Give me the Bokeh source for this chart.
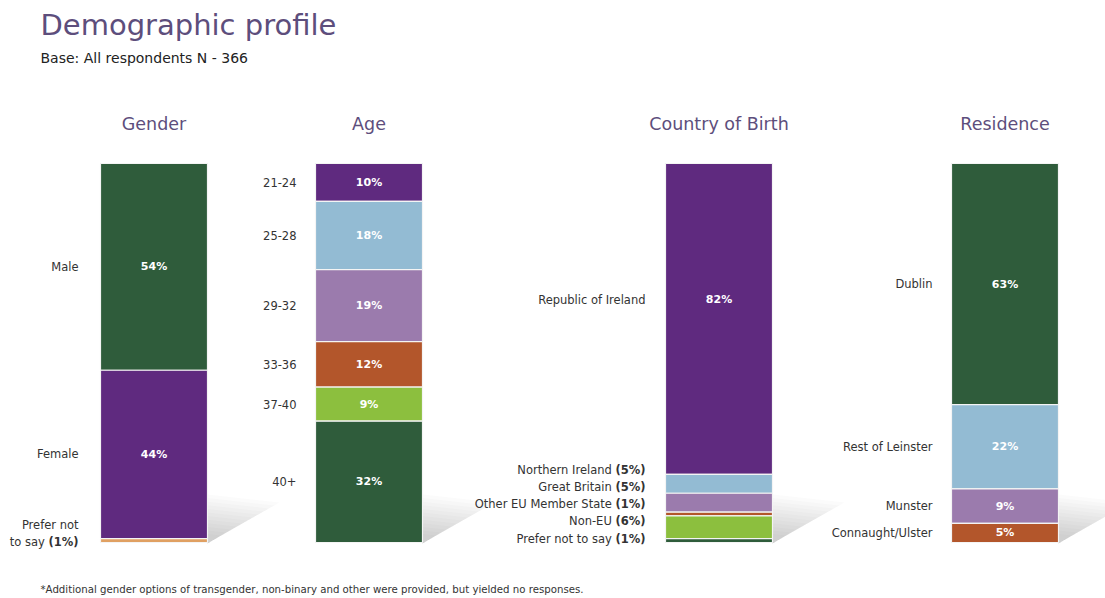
import numpy as np
from bokeh.plotting import figure
from bokeh.models import Range1d
from bokeh.core.properties import value
from bokeh.embed import file_html
from bokeh.resources import INLINE

# ---------------- data ----------------
gender_labels = ["Male", "Female", "Prefer not to say"]
gender_values = [54, 44, 1]
age_labels = ["21-24", "25-28", "29-32", "33-36", "37-40", "40+"]
age_values = [10, 18, 19, 12, 9, 32]
country_labels = ["Republic of Ireland", "Northern Ireland", "Great Britain",
                  "Other EU Member State", "Non-EU", "Prefer not to say"]
country_values = [82, 5, 5, 1, 6, 1]
residence_labels = ["Dublin", "Rest of Leinster", "Munster", "Connaught/Ulster"]
residence_values = [63, 22, 9, 5]
panel_titles = ["Gender", "Age", "Country of Birth", "Residence"]

# ---------------- styles ----------------
DKGREEN = "#2f5c3b"
PURPLE = "#5f2a7f"
LTBLUE = "#93bbd3"
LILAC = "#9b7bad"
RUST = "#b3562b"
LIME = "#8cbf3e"
PEACH = "#e0a062"
TITLE_C = "#5d4e7c"
TEXT_C = "#333333"
FONT = "DejaVu Sans"
LBL = 11.5          # category label size (px)
BOLD_GAP = (2.612 + 0.318) * LBL   # width of " (5%)" in bold

gender_colors = [DKGREEN, PURPLE, PEACH]
age_colors = [PURPLE, LTBLUE, LILAC, RUST, LIME, DKGREEN]
country_colors = [PURPLE, LTBLUE, LILAC, RUST, LIME, DKGREEN]
residence_colors = [DKGREEN, LTBLUE, LILAC, RUST]

W, H = 1105, 598
BAR_TOP, BAR_BOT = 163, 542          # page pixels
BAR_H = BAR_BOT - BAR_TOP
BAR_W = 107


def Y(py):
    """page pixel -> data units (percent of bar height)"""
    return (BAR_BOT - py) / BAR_H * 100.0


p = figure(width=W, height=H, output_backend="svg", toolbar_location=None,
           x_range=Range1d(0, W), y_range=Range1d(Y(H), Y(0)),
           min_border=0, outline_line_color=None)
p.axis.visible = False
p.grid.visible = False
p.background_fill_color = "white"
p.border_fill_color = "white"


def txt(x, y, s, size, color=TEXT_C, align="right", bold=False, baseline="middle"):
    p.text(x=[x], y=[y], text=[s], text_font=value(FONT),
           text_font_size=f"{size}px", text_color=color, text_align=align,
           text_baseline=baseline, text_font_style="bold" if bold else "normal")


def shadow(xr):
    # soft page-curl shadow to the right of a bar's foot
    n = 12
    for k in range(n):
        s = 1 - 0.075 * k
        xs = [xr, xr + 72 * s, xr]
        ys = [Y(BAR_BOT + 1), Y(BAR_BOT - 40 * s), Y(BAR_BOT - 48 * s)]
        p.patch(xs, ys, fill_color="#606060", fill_alpha=0.022, line_color=None)


def stack(xc, values, colors):
    v = np.array(values, dtype=float)
    v = v / v.sum() * 100.0
    top = 100.0 - np.concatenate([[0], np.cumsum(v)[:-1]])
    bot = top - v
    shadow(xc + BAR_W / 2)
    p.vbar(x=[xc] * len(v), width=BAR_W, top=top, bottom=bot,
           fill_color=colors, line_color="#f4f4f4", line_width=1.2)
    return (top + bot) / 2


centers = [153.5, 368.5, 718.5, 1004.5]
label_right = [78, 296, 645, 932]

# ---- titles ----
txt(40, Y(24), "Demographic profile", 29, color=TITLE_C, align="left")
txt(40, Y(57), "Base: All respondents N - 366", 14, color="#222222", align="left")
for xc, t in zip(centers, panel_titles):
    txt(xc, Y(123), t, 17.5, color=TITLE_C, align="center")
txt(40, Y(589), "*Additional gender options of transgender, non-binary and other "
    "were provided, but yielded no responses.", 10.2, color=TEXT_C, align="left")

# ---- Gender ----
mid = stack(centers[0], gender_values, gender_colors)
for i in range(2):
    txt(label_right[0], mid[i], gender_labels[i], LBL)
    txt(centers[0], mid[i], f"{gender_values[i]}%", 11, color="white",
        align="center", bold=True)
txt(label_right[0], Y(524), "Prefer not", LBL)
txt(label_right[0] - BOLD_GAP, Y(541), "to say", LBL)
txt(label_right[0], Y(541), f"({gender_values[2]}%)", LBL, bold=True)

# ---- Age ----
mid = stack(centers[1], age_values, age_colors)
for i in range(len(age_values)):
    txt(label_right[1], mid[i], age_labels[i], LBL)
    txt(centers[1], mid[i], f"{age_values[i]}%", 11, color="white",
        align="center", bold=True)

# ---- Country of Birth ----
mid = stack(centers[2], country_values, country_colors)
txt(label_right[2], mid[0] + Y(298) - Y(317), country_labels[0], LBL)
txt(centers[2], mid[0] + Y(298) - Y(317), f"{country_values[0]}%", 11,
    color="white", align="center", bold=True)
n_small = len(country_values) - 1
for j in range(n_small):
    py = BAR_BOT - 4 - 17.2 * (n_small - 1 - j)
    i = j + 1
    txt(label_right[2] - BOLD_GAP, Y(py), country_labels[i], LBL)
    txt(label_right[2], Y(py), f"({country_values[i]}%)", LBL, bold=True)

# ---- Residence ----
mid = stack(centers[3], residence_values, residence_colors)
for i in range(len(residence_values)):
    txt(label_right[3], mid[i], residence_labels[i], LBL)
    txt(centers[3], mid[i], f"{residence_values[i]}%", 11, color="white",
        align="center", bold=True)

open("out.html", "w").write(file_html(p, INLINE))
